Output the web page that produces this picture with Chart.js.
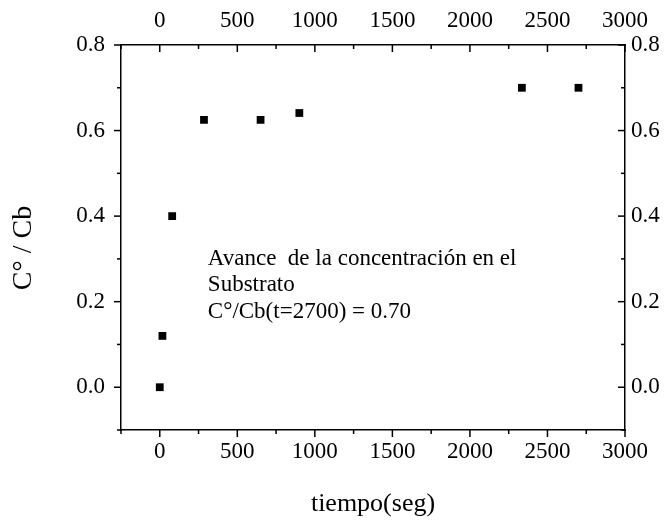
<!DOCTYPE html>
<html>
<head>
<meta charset="utf-8">
<script src="https://cdn.jsdelivr.net/npm/chart.js@4/dist/chart.umd.min.js"></script>
<style>
  html, body { margin: 0; padding: 0; background: #fff; }
  #wrap { width: 665px; height: 521px; }
</style>
</head>
<body>
<div id="wrap"><canvas id="myChart"></canvas></div>
<script>
/* datos */
const tiempo = [0, 17, 80, 285, 650, 900, 2335, 2700];
const concentracion = [0, 0.12, 0.40, 0.625, 0.625, 0.641, 0.70, 0.70];

const xTicks = [0, 500, 1000, 1500, 2000, 2500, 3000];
const xMinor = [-250, 250, 750, 1250, 1750, 2250, 2750];
const yTicks = [0.0, 0.2, 0.4, 0.6, 0.8];
const yMinor = [-0.1, 0.1, 0.3, 0.5, 0.7];

const nota = ['Avance  de la concentración en el', 'Substrato', 'C°/Cb(t=2700) = 0.70'];

const fuente = 'Liberation Serif';

const puntos = tiempo.map((t, i) => ({ x: t, y: concentracion[i] }));

/* marcas de los ejes (mayores y menores) */
const marcas = {
  id: 'marcas',
  afterDraw(chart) {
    const ctx = chart.ctx;
    const a = chart.chartArea;
    ctx.save();
    ctx.strokeStyle = '#000';
    ctx.lineWidth = 1.5;
    const dibujar = (id, vals, len) => {
      const s = chart.scales[id];
      vals.forEach(v => {
        const p = s.getPixelForValue(v);
        ctx.beginPath();
        if (id === 'x') { ctx.moveTo(p, a.bottom); ctx.lineTo(p, a.bottom + len); }
        if (id === 'x2') { ctx.moveTo(p, a.top); ctx.lineTo(p, a.top + len); }
        if (id === 'y') { ctx.moveTo(a.left, p); ctx.lineTo(a.left - len, p); }
        if (id === 'y2') { ctx.moveTo(a.right, p); ctx.lineTo(a.right - len, p); }
        ctx.stroke();
      });
    };
    ['x', 'x2'].forEach(id => { dibujar(id, xTicks, 7); dibujar(id, xMinor, 4); });
    ['y', 'y2'].forEach(id => { dibujar(id, yTicks, 7); dibujar(id, yMinor, 4); });
    ctx.restore();
  }
};

/* texto dentro del grafico */
const texto = {
  id: 'texto',
  afterDraw(chart) {
    const ctx = chart.ctx;
    const x = chart.scales.x.getPixelForValue(310);
    const y0 = chart.scales.y.getPixelForValue(0.30);
    ctx.save();
    ctx.fillStyle = '#000';
    ctx.font = '23px "' + fuente + '"';
    ctx.textAlign = 'left';
    ctx.textBaseline = 'middle';
    nota.forEach((linea, i) => ctx.fillText(linea, x, y0 + i * 26.5));
    ctx.restore();
  }
};

const ejeX = (pos, alto, pad) => ({
  type: 'linear',
  position: pos,
  min: -250,
  max: 3000,
  afterBuildTicks: s => { s.ticks = xTicks.map(v => ({ value: v })); },
  afterFit: s => { s.height = alto; },
  grid: { display: false, drawTicks: false },
  border: { display: true, color: '#000', width: 1.5 },
  ticks: { color: '#000', padding: pad, maxRotation: 0, font: { family: fuente, size: 23 }, callback: v => String(v) }
});

const ejeY = (pos, ancho, pad) => ({
  type: 'linear',
  position: pos,
  min: -0.1,
  max: 0.8,
  afterBuildTicks: s => { s.ticks = yTicks.map(v => ({ value: v })); },
  afterFit: s => { s.width = ancho; },
  grid: { display: false, drawTicks: false },
  border: { display: true, color: '#000', width: 1.5 },
  ticks: { color: '#000', padding: pad, font: { family: fuente, size: 23 }, callback: v => v.toFixed(1) }
});

const x = ejeX('bottom', 91, 8);
x.title = { display: true, text: 'tiempo(seg)', color: '#000', padding: { top: 0, bottom: 1 }, font: { family: fuente, size: 26 } };
const x2 = ejeX('top', 45, 10);
const y = ejeY('left', 121, 16);
y.title = { display: true, text: 'C° / Cb   ', color: '#000', padding: { top: 7, bottom: 0 }, font: { family: fuente, size: 28 } };
const y2 = ejeY('right', 40, 6);

const config = {
  type: 'scatter',
  data: {
    datasets: [{
      label: 'C°/Cb',
      data: puntos,
      pointStyle: 'rect',
      pointRadius: 5.5,
      backgroundColor: '#000',
      borderColor: '#000',
      borderWidth: 0
    }]
  },
  options: {
    responsive: true,
    maintainAspectRatio: false,
    animation: false,
    layout: { padding: 0 },
    plugins: { legend: { display: false }, tooltip: { enabled: false } },
    scales: { x: x, x2: x2, y: y, y2: y2 }
  },
  plugins: [marcas, texto]
};

const myChart = new Chart(document.getElementById('myChart'), config);
</script>
</body>
</html>
